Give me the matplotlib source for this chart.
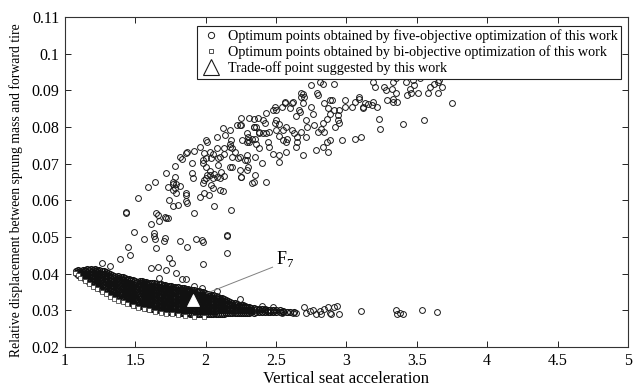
import matplotlib.pyplot as plt
from matplotlib.lines import Line2D

plt.rcParams['font.family'] = ['Liberation Serif', 'DejaVu Serif']
plt.rcParams['mathtext.fontset'] = 'custom'
plt.rcParams['mathtext.rm'] = 'Liberation Serif'

# five-objective optimum points, upper cloud
upper_pts = [
    (1.39, 0.0440), (1.46, 0.0451), (1.45, 0.0473), (1.49, 0.0514), (1.56, 0.0494), (1.43, 0.0566),
    (1.43, 0.0568), (1.52, 0.0607), (1.59, 0.0636), (1.64, 0.0651), (1.61, 0.0535), (1.65, 0.0567),
    (1.66, 0.0559), (1.67, 0.0544), (1.71, 0.0555), (1.73, 0.0551), (1.72, 0.0553), (1.63, 0.0510),
    (1.63, 0.0503), (1.64, 0.0496), (1.65, 0.0469), (1.71, 0.0498), (1.70, 0.0490), (1.82, 0.0489),
    (1.87, 0.0474), (1.93, 0.0496), (1.97, 0.0492), (1.98, 0.0487), (1.74, 0.0442), (1.76, 0.0429),
    (1.98, 0.0428), (2.15, 0.0457), (2.15, 0.0503), (2.15, 0.0506), (2.18, 0.0573), (2.06, 0.0586),
    (2.02, 0.0615), (2.12, 0.0625), (1.98, 0.0648), (1.99, 0.0655), (2.00, 0.0660), (1.92, 0.0565),
    (1.87, 0.0594), (1.86, 0.0598), (1.80, 0.0588), (1.77, 0.0585), (1.74, 0.0601), (1.79, 0.0619),
    (1.82, 0.0640), (1.86, 0.0615), (1.77, 0.0644), (1.78, 0.0633), (1.72, 0.0675), (1.78, 0.0663),
    (1.90, 0.0675), (1.91, 0.0660), (1.73, 0.0637), (1.77, 0.0651), (1.79, 0.0646), (1.77, 0.0628),
    (1.86, 0.0619), (1.99, 0.0619), (1.96, 0.0610), (2.05, 0.0633), (2.10, 0.0628), (2.04, 0.0642),
    (2.25, 0.0665), (2.33, 0.0648), (2.43, 0.0651), (2.34, 0.0651), (2.25, 0.0664),
    (1.78, 0.0694), (1.83, 0.0712), (1.87, 0.0733), (1.92, 0.0735), (1.90, 0.0701), (1.99, 0.0730),
    (2.00, 0.0715), (2.04, 0.0715), (2.10, 0.0719), (1.98, 0.0710), (2.01, 0.0759), (2.08, 0.0772),
    (2.14, 0.0778), (2.17, 0.0792), (2.25, 0.0805), (2.31, 0.0824), (2.17, 0.0755), (2.21, 0.0733),
    (2.23, 0.0715), (2.28, 0.0710), (2.30, 0.0692), (2.29, 0.0760), (2.17, 0.0745), (2.13, 0.0744),
    (2.09, 0.0696), (2.03, 0.0680), (2.06, 0.0672), (2.08, 0.0665), (2.11, 0.0678), (2.13, 0.0668),
    (2.05, 0.0662), (2.01, 0.0670), (2.10, 0.0660), (2.17, 0.0692), (2.24, 0.0683), (2.03, 0.0733),
    (2.09, 0.0715), (2.13, 0.0726), (2.19, 0.0718), (2.24, 0.0718), (2.30, 0.0765), (2.33, 0.0769),
    (2.29, 0.0783), (2.38, 0.0783), (2.43, 0.0783), (2.36, 0.0801), (2.18, 0.0765), (2.08, 0.0742),
    (2.19, 0.0742), (2.29, 0.0724), (2.19, 0.0692), (2.00, 0.0692), (2.03, 0.0669), (1.98, 0.0702),
    (2.05, 0.0728), (1.96, 0.0746), (1.86, 0.0729), (1.82, 0.0718), (2.00, 0.0765), (2.12, 0.0797),
    (2.22, 0.0805), (2.25, 0.0824), (2.37, 0.0824), (2.34, 0.0800), (2.43, 0.0838), (2.50, 0.0846),
    (2.54, 0.0855), (2.56, 0.0868), (2.62, 0.0868), (2.69, 0.0890), (2.70, 0.0882), (2.75, 0.0914),
    (2.79, 0.0893),
    (2.81, 0.0923), (2.83, 0.0919), (2.91, 0.0919), (2.80, 0.0889), (2.68, 0.0892), (2.68, 0.0882),
    (2.69, 0.0865), (2.75, 0.0855), (2.56, 0.0866), (2.61, 0.0865), (2.60, 0.0853), (2.49, 0.0855),
    (2.48, 0.0846), (2.67, 0.0842), (2.66, 0.0846), (2.64, 0.0830), (2.71, 0.0819), (2.76, 0.0837),
    (2.84, 0.0865), (2.88, 0.0874), (2.90, 0.0875), (2.87, 0.0851), (2.91, 0.0846), (2.95, 0.0846),
    (2.88, 0.0837), (2.94, 0.0833), (2.94, 0.0819), (2.95, 0.0810), (2.92, 0.0801), (2.86, 0.0821),
    (2.83, 0.0810), (2.82, 0.0796), (2.80, 0.0787), (2.84, 0.0787), (2.77, 0.0805), (2.72, 0.0801),
    (2.68, 0.0787), (2.65, 0.0774), (2.65, 0.0760), (2.58, 0.0769), (2.57, 0.0801), (2.55, 0.0792),
    (2.61, 0.0792), (2.50, 0.0792), (2.52, 0.0775), (2.57, 0.0760), (2.55, 0.0765), (2.63, 0.0783),
    (2.71, 0.0774), (2.86, 0.0760), (2.88, 0.0765), (3.06, 0.0769), (3.10, 0.0774), (2.99, 0.0874),
    (3.06, 0.0869), (3.09, 0.0882), (3.13, 0.0865), (3.12, 0.0855), (3.04, 0.0855), (2.99, 0.0855),
    (2.34, 0.0823), (2.24, 0.0805), (2.41, 0.0783), (2.50, 0.0819), (2.49, 0.0812), (2.52, 0.0808),
    (2.41, 0.0819), (2.42, 0.0810), (2.34, 0.0801), (2.38, 0.0787), (2.45, 0.0787), (2.30, 0.0774),
    (2.35, 0.0769), (2.44, 0.0760), (2.36, 0.0755), (2.31, 0.0760), (2.26, 0.0765), (2.38, 0.0742),
    (2.45, 0.0746), (2.48, 0.0728), (2.52, 0.0724), (2.57, 0.0733), (2.35, 0.0719), (2.29, 0.0710),
    (2.40, 0.0701), (2.29, 0.0683), (2.35, 0.0669), (2.52, 0.0705), (2.64, 0.0746), (2.69, 0.0724),
    (2.78, 0.0737), (2.83, 0.0746), (2.87, 0.0733), (2.97, 0.0765),
    (3.19, 0.0923), (3.20, 0.0910), (3.33, 0.0923), (3.35, 0.0933), (3.42, 0.0923), (3.47, 0.0928),
    (3.52, 0.0933), (3.48, 0.0914), (3.27, 0.0910), (3.28, 0.0901), (3.32, 0.0905), (3.45, 0.0905),
    (3.46, 0.0892), (3.43, 0.0887), (3.51, 0.0892), (3.35, 0.0892), (3.33, 0.0878), (3.33, 0.0869),
    (3.36, 0.0869), (3.29, 0.0874), (3.58, 0.0892), (3.59, 0.0910), (3.62, 0.0919), (3.65, 0.0923),
    (3.66, 0.0928), (3.68, 0.0910), (3.65, 0.0892), (3.75, 0.0865), (3.23, 0.0821), (3.24, 0.0794),
    (3.40, 0.0808), (3.55, 0.0819), (3.09, 0.0878), (3.12, 0.0851), (3.18, 0.0860), (3.15, 0.0862),
    (3.22, 0.0855), (3.19, 0.0869),
]

# loose points just above the dense front
sparse_pts = [
    (1.26, 0.0430), (1.32, 0.0421), (1.61, 0.0415), (1.66, 0.0418), (1.72, 0.0410), (1.67, 0.0388),
    (1.79, 0.0401), (1.83, 0.0385), (1.86, 0.0385), (1.92, 0.0366), (1.97, 0.0360), (2.08, 0.0353),
    (2.24, 0.0330), (2.40, 0.0312), (2.48, 0.0310),
]

# right tail near y = 0.03
tail_pts = [
    (2.54, 0.0294), (2.58, 0.0296), (2.62, 0.0293), (2.64, 0.0294), (2.70, 0.0309), (2.71, 0.0292),
    (2.74, 0.0299), (2.76, 0.0301), (2.78, 0.0290), (2.81, 0.0299), (2.82, 0.0291), (2.84, 0.0304),
    (2.87, 0.0309), (2.88, 0.0293), (2.89, 0.0290), (2.91, 0.0310), (2.93, 0.0312), (2.95, 0.0291),
    (3.10, 0.0298), (3.35, 0.0301), (3.36, 0.0291), (3.38, 0.0293), (3.40, 0.0290), (3.54, 0.0301),
    (3.64, 0.0296),
]

# dense black band: x columns and the y values seen in each
band_x = [1.08, 1.11, 1.14, 1.17, 1.20, 1.23, 1.26, 1.29, 1.32, 1.35, 1.38, 1.41, 1.44, 1.47,
          1.50, 1.53, 1.56, 1.59, 1.62, 1.65, 1.68, 1.71, 1.74, 1.77, 1.80, 1.83, 1.86, 1.89,
          1.92, 1.95, 1.98, 2.01, 2.04, 2.07, 2.10, 2.13, 2.16, 2.19, 2.22, 2.25, 2.28, 2.31,
          2.34, 2.38, 2.42, 2.46, 2.50, 2.55, 2.60, 2.63]
band_y = [
    [0.0402, 0.0408],
    [0.0394, 0.0401, 0.0408],
    [0.0386, 0.0393, 0.0400, 0.0407, 0.0411],
    [0.0378, 0.0386, 0.0394, 0.0402, 0.0409],
    [0.0371, 0.0379, 0.0387, 0.0395, 0.0403, 0.0410],
    [0.0364, 0.0372, 0.0381, 0.0389, 0.0397, 0.0405, 0.0411],
    [0.0357, 0.0366, 0.0375, 0.0384, 0.0392, 0.0400, 0.0408],
    [0.0351, 0.0359, 0.0368, 0.0377, 0.0386, 0.0395, 0.0404],
    [0.0345, 0.0354, 0.0363, 0.0372, 0.0381, 0.0390, 0.0399],
    [0.0339, 0.0348, 0.0357, 0.0366, 0.0375, 0.0384, 0.0394],
    [0.0334, 0.0343, 0.0352, 0.0361, 0.0370, 0.0379, 0.0388, 0.0393],
    [0.0329, 0.0338, 0.0347, 0.0356, 0.0365, 0.0374, 0.0383, 0.0390],
    [0.0324, 0.0333, 0.0342, 0.0351, 0.0360, 0.0369, 0.0378, 0.0386],
    [0.0320, 0.0329, 0.0338, 0.0347, 0.0356, 0.0365, 0.0374, 0.0383],
    [0.0316, 0.0325, 0.0334, 0.0343, 0.0352, 0.0361, 0.0370, 0.0381],
    [0.0312, 0.0321, 0.0330, 0.0339, 0.0348, 0.0357, 0.0366, 0.0375, 0.0380],
    [0.0309, 0.0318, 0.0327, 0.0336, 0.0345, 0.0354, 0.0363, 0.0372, 0.0378],
    [0.0306, 0.0315, 0.0324, 0.0333, 0.0342, 0.0351, 0.0360, 0.0369, 0.0376],
    [0.0304, 0.0313, 0.0322, 0.0331, 0.0340, 0.0349, 0.0358, 0.0367, 0.0375],
    [0.0302, 0.0311, 0.0320, 0.0329, 0.0338, 0.0347, 0.0356, 0.0365, 0.0373],
    [0.0300, 0.0309, 0.0318, 0.0327, 0.0336, 0.0345, 0.0354, 0.0363, 0.0371],
    [0.0298, 0.0307, 0.0316, 0.0325, 0.0334, 0.0343, 0.0352, 0.0361, 0.0369],
    [0.0296, 0.0305, 0.0314, 0.0323, 0.0332, 0.0341, 0.0350, 0.0359, 0.0367],
    [0.0295, 0.0304, 0.0313, 0.0322, 0.0331, 0.0340, 0.0349, 0.0358, 0.0365],
    [0.0294, 0.0303, 0.0312, 0.0321, 0.0330, 0.0339, 0.0348, 0.0357, 0.0363],
    [0.0293, 0.0302, 0.0311, 0.0320, 0.0329, 0.0338, 0.0347, 0.0355, 0.0361],
    [0.0292, 0.0301, 0.0310, 0.0319, 0.0328, 0.0337, 0.0346, 0.0353, 0.0359],
    [0.0291, 0.0300, 0.0309, 0.0318, 0.0327, 0.0336, 0.0345, 0.0352, 0.0357],
    [0.0290, 0.0299, 0.0308, 0.0317, 0.0326, 0.0335, 0.0344, 0.0350, 0.0355],
    [0.0290, 0.0299, 0.0308, 0.0317, 0.0326, 0.0335, 0.0343, 0.0352],
    [0.0289, 0.0298, 0.0307, 0.0316, 0.0325, 0.0334, 0.0342, 0.0349],
    [0.0289, 0.0298, 0.0307, 0.0316, 0.0325, 0.0334, 0.0341, 0.0346],
    [0.0290, 0.0299, 0.0308, 0.0317, 0.0326, 0.0335, 0.0343],
    [0.0290, 0.0299, 0.0308, 0.0317, 0.0326, 0.0334, 0.0340],
    [0.0291, 0.0300, 0.0309, 0.0318, 0.0327, 0.0335],
    [0.0291, 0.0300, 0.0309, 0.0318, 0.0326, 0.0331],
    [0.0292, 0.0300, 0.0309, 0.0317, 0.0325],
    [0.0292, 0.0300, 0.0308, 0.0316, 0.0321],
    [0.0293, 0.0301, 0.0309, 0.0317],
    [0.0293, 0.0301, 0.0309, 0.0315],
    [0.0294, 0.0302, 0.0310, 0.0313],
    [0.0294, 0.0302, 0.0310],
    [0.0294, 0.0301, 0.0307],
    [0.0295, 0.0302, 0.0305],
    [0.0295, 0.0301, 0.0304],
    [0.0295, 0.0300],
    [0.0296, 0.0300],
    [0.0296, 0.0299],
    [0.0297],
    [0.0295],
]

# second, staggered set of columns inside the same band
band2_x = [1.095, 1.125, 1.155, 1.185, 1.215, 1.245, 1.275, 1.305, 1.335, 1.365, 1.395, 1.425,
           1.455, 1.485, 1.515, 1.545, 1.575, 1.605, 1.635, 1.665, 1.695, 1.725, 1.755, 1.785,
           1.815, 1.845, 1.875, 1.905, 1.935, 1.965, 1.995, 2.025, 2.055, 2.085, 2.115, 2.145,
           2.175, 2.205, 2.235, 2.265, 2.295, 2.325, 2.36, 2.40, 2.44, 2.48, 2.525, 2.575]
band2_y = [
    [0.0398, 0.0405, 0.0411],
    [0.0390, 0.0397, 0.0404, 0.0410],
    [0.0382, 0.0390, 0.0398, 0.0405, 0.0412],
    [0.0375, 0.0383, 0.0391, 0.0399, 0.0406, 0.0412],
    [0.0368, 0.0376, 0.0384, 0.0392, 0.0400, 0.0407, 0.0413],
    [0.0361, 0.0370, 0.0378, 0.0387, 0.0395, 0.0403, 0.0411],
    [0.0355, 0.0363, 0.0372, 0.0381, 0.0390, 0.0399, 0.0407],
    [0.0348, 0.0357, 0.0366, 0.0375, 0.0384, 0.0393, 0.0402],
    [0.0342, 0.0351, 0.0360, 0.0369, 0.0378, 0.0387, 0.0396],
    [0.0337, 0.0346, 0.0355, 0.0364, 0.0373, 0.0382, 0.0391],
    [0.0332, 0.0341, 0.0350, 0.0359, 0.0368, 0.0377, 0.0386, 0.0392],
    [0.0327, 0.0336, 0.0345, 0.0354, 0.0363, 0.0372, 0.0381, 0.0388],
    [0.0322, 0.0331, 0.0340, 0.0349, 0.0358, 0.0367, 0.0376, 0.0385],
    [0.0318, 0.0327, 0.0336, 0.0345, 0.0354, 0.0363, 0.0372, 0.0382],
    [0.0314, 0.0323, 0.0332, 0.0341, 0.0350, 0.0359, 0.0368, 0.0377],
    [0.0311, 0.0320, 0.0329, 0.0338, 0.0347, 0.0356, 0.0365, 0.0374, 0.0379],
    [0.0308, 0.0317, 0.0326, 0.0335, 0.0344, 0.0353, 0.0362, 0.0371, 0.0377],
    [0.0305, 0.0314, 0.0323, 0.0332, 0.0341, 0.0350, 0.0359, 0.0368, 0.0375],
    [0.0303, 0.0312, 0.0321, 0.0330, 0.0339, 0.0348, 0.0357, 0.0366, 0.0374],
    [0.0301, 0.0310, 0.0319, 0.0328, 0.0337, 0.0346, 0.0355, 0.0364, 0.0372],
    [0.0299, 0.0308, 0.0317, 0.0326, 0.0335, 0.0344, 0.0353, 0.0362, 0.0370],
    [0.0297, 0.0306, 0.0315, 0.0324, 0.0333, 0.0342, 0.0351, 0.0360, 0.0368],
    [0.0296, 0.0305, 0.0314, 0.0323, 0.0332, 0.0341, 0.0350, 0.0359, 0.0366],
    [0.0295, 0.0304, 0.0313, 0.0322, 0.0331, 0.0340, 0.0349, 0.0357, 0.0364],
    [0.0294, 0.0303, 0.0312, 0.0321, 0.0330, 0.0339, 0.0348, 0.0356, 0.0362],
    [0.0293, 0.0302, 0.0311, 0.0320, 0.0329, 0.0338, 0.0347, 0.0354, 0.0360],
    [0.0292, 0.0301, 0.0310, 0.0319, 0.0328, 0.0337, 0.0346, 0.0352, 0.0358],
    [0.0291, 0.0300, 0.0309, 0.0318, 0.0327, 0.0336, 0.0344, 0.0351, 0.0356],
    [0.0290, 0.0299, 0.0308, 0.0317, 0.0326, 0.0335, 0.0343, 0.0351, 0.0354],
    [0.0290, 0.0299, 0.0308, 0.0317, 0.0326, 0.0334, 0.0342, 0.0350],
    [0.0289, 0.0298, 0.0307, 0.0316, 0.0325, 0.0333, 0.0341, 0.0347],
    [0.0290, 0.0298, 0.0307, 0.0316, 0.0325, 0.0333, 0.0340, 0.0345],
    [0.0290, 0.0299, 0.0308, 0.0317, 0.0325, 0.0333, 0.0341],
    [0.0291, 0.0300, 0.0309, 0.0317, 0.0325, 0.0332, 0.0338],
    [0.0291, 0.0300, 0.0309, 0.0317, 0.0325, 0.0333],
    [0.0292, 0.0300, 0.0308, 0.0316, 0.0323, 0.0328],
    [0.0292, 0.0300, 0.0308, 0.0315, 0.0322],
    [0.0293, 0.0301, 0.0309, 0.0316, 0.0319],
    [0.0293, 0.0301, 0.0309, 0.0316],
    [0.0294, 0.0302, 0.0310, 0.0314],
    [0.0294, 0.0302, 0.0309],
    [0.0295, 0.0302, 0.0308],
    [0.0295, 0.0303],
    [0.0296, 0.0303],
    [0.0296, 0.0302],
    [0.0297, 0.0301],
    [0.0296, 0.0300],
    [0.0297],
]

# bi-objective front (squares)
bi_x = [1.07, 1.09, 1.11, 1.14, 1.17, 1.20, 1.23, 1.26, 1.29, 1.32, 1.35, 1.38, 1.41,
        1.44, 1.48, 1.52, 1.56, 1.60, 1.64, 1.68, 1.72, 1.76, 1.80, 1.85, 1.92, 1.99]
bi_y = [0.0403, 0.0396, 0.0389, 0.0381, 0.0373, 0.0365, 0.0358, 0.0351, 0.0345, 0.0338,
        0.0332, 0.0327, 0.0322, 0.0318, 0.0313, 0.0308, 0.0304, 0.0300, 0.0297, 0.0294,
        0.0291, 0.0289, 0.0287, 0.0285, 0.0283, 0.0282]

# trade-off point F7 and its label
trade_x, trade_y = 1.91, 0.0328
f7_label_xy = (2.50, 0.0413)
f7_leader_x = [2.475, 2.007]
f7_leader_y = [0.0418, 0.0347]

bx, by = [], []
for cols_x, cols_y in ((band_x, band_y), (band2_x, band2_y)):
    for xc, ys in zip(cols_x, cols_y):
        bx += [xc] * len(ys)
        by += ys

ox, oy = [], []
for pts in (sparse_pts, tail_pts, upper_pts):
    ox += [p[0] for p in pts]
    oy += [p[1] for p in pts]

fig = plt.figure(figsize=(6.41, 3.90), dpi=100)
ax = fig.add_axes([0.1014, 0.110, 0.8783, 0.846])

ax.plot(bx, by, 'o', ls='none', ms=4.2, mfc='none', mec='#111111', mew=0.9)
ax.plot(ox, oy, 'o', ls='none', ms=4.2, mfc='none', mec='#1a1a1a', mew=0.7)
ax.plot(bi_x, bi_y, 's', ls='none', ms=3, mfc='white', mec='#333333', mew=0.5)
ax.plot([trade_x], [trade_y], '^', ls='none', ms=9, mfc='white', mec='white', mew=0.6)

ax.plot(f7_leader_x, f7_leader_y, color='#808080', lw=0.7)
ax.text(f7_label_xy[0], f7_label_xy[1], r'F$_{7}$', fontsize=13, ha='left', va='bottom')

ax.set_xlim(1, 5)
ax.set_ylim(0.02, 0.11)
ax.set_xticks([1, 1.5, 2, 2.5, 3, 3.5, 4, 4.5, 5])
ax.set_xticklabels(['1', '1.5', '2', '2.5', '3', '3.5', '4', '4.5', '5'])
yt = [0.02, 0.03, 0.04, 0.05, 0.06, 0.07, 0.08, 0.09, 0.1, 0.11]
ax.set_yticks(yt)
ax.set_yticklabels(['0.02', '0.03', '0.04', '0.05', '0.06', '0.07', '0.08', '0.09', '0.1', '0.11'])
ax.tick_params(direction='in', top=True, right=True, length=4, width=0.6, labelsize=11.5, pad=4)
for s in ax.spines.values():
    s.set_linewidth(0.8)
    s.set_color('#333333')

ax.set_xlabel('Vertical seat acceleration', fontsize=12, labelpad=2)
ax.set_ylabel('Relative displacement between sprung mass and forward tire', fontsize=9.8)
ax.yaxis.set_label_coords(-0.075, 0.476)

handles = [
    Line2D([], [], ls='none', marker='o', ms=4.5, mfc='none', mec='#1a1a1a', mew=0.7),
    Line2D([], [], ls='none', marker='s', ms=3.5, mfc='none', mec='#333333', mew=0.6),
    Line2D([], [], ls='none', marker='^', ms=12, mfc='white', mec='#1a1a1a', mew=0.8),
]
labels = ['Optimum points obtained by five-objective optimization of this work',
          'Optimum points obtained by bi-objective optimization of this work',
          'Trade-off point suggested by this work']
leg = ax.legend(handles, labels, loc='upper right', bbox_to_anchor=(0.988, 0.973),
                borderaxespad=0, fontsize=10.2, frameon=True, fancybox=False, framealpha=1,
                edgecolor='#222222', labelspacing=0.15, handlelength=1.4, handletextpad=0.5,
                borderpad=0.25)
leg.get_frame().set_linewidth(0.8)

fig.savefig('out.png', dpi=100)
